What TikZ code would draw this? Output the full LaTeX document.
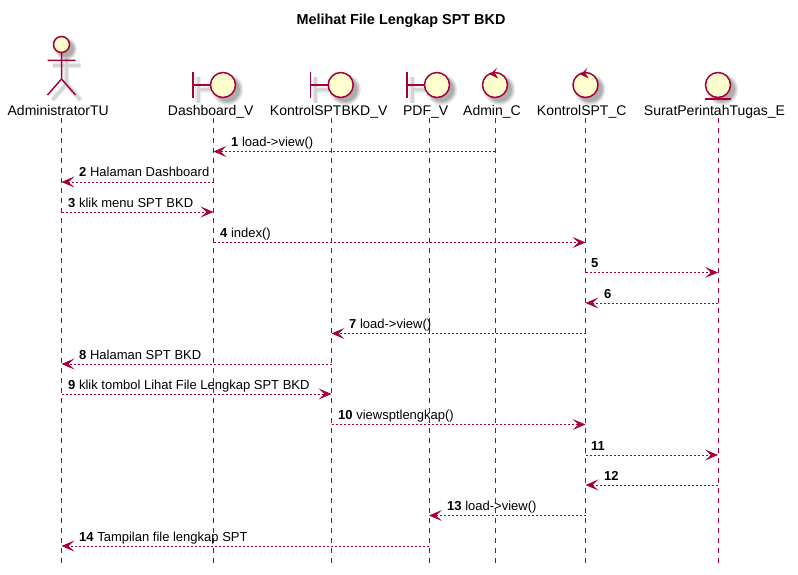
\documentclass[tikz,border=0pt]{standalone}
\usepackage{fontspec}
\setmainfont{Liberation Sans}
\usetikzlibrary{arrows.meta}
\definecolor{pline}{HTML}{A80036}
\definecolor{pfill}{HTML}{FEFECE}
\tikzset{
  shape line/.style={draw=pline,line width=1.5pt,fill=pfill},
  stroke/.style={draw=pline,line width=1.5pt},
  soft outer/.style={draw=black,draw opacity=0.08,line width=5.5pt},
  soft inner/.style={draw=black,draw opacity=0.10,line width=3pt},
  lifeline/.style={draw=pline,line width=1pt,dash pattern=on 5pt off 5pt},
  msg/.style={draw=pline,line width=0.9pt,dash pattern=on 2pt off 2pt,
    -{Stealth[length=13pt,width=11pt,inset=6pt,fill=pline]}},
  head label/.style={inner sep=0pt,anchor=base,font=\fontsize{14}{16}\selectfont,text=black},
  msg label/.style={inner sep=0pt,anchor=base west,font=\fontsize{13}{15}\selectfont,text=black},
  title label/.style={inner sep=0pt,anchor=base,font=\fontsize{14.4}{16}\selectfont\bfseries,text=black},
}
% #1 lifeline from, #2 lifeline to, #3 y, #4 label x, #5 number, #6 text
\newcommand{\msgarrow}[6]{%
  \draw[msg] (#1 |- 0,#3) -- (#2 |- 0,#3);
  \node[msg label] (m#5) at (#4,#3-5) {\textbf{#5} #6};
}
\newcommand{\softdisc}[3]{% x, y, r
  \fill[black,opacity=0.10] (#1,#2) circle (#3+2.5);
  \fill[black,opacity=0.12] (#1,#2) circle (#3+1);
  \fill[black,opacity=0.14] (#1,#2) circle (#3-0.5);
}
\newcommand{\boundaryshape}[1]{%
  \begin{scope}[shift={(#1,85)}]
    \draw[soft outer] (-25,-8) -- (-25,18) (-25,5) -- (-12,5);
    \draw[soft inner] (-25,-8) -- (-25,18) (-25,5) -- (-12,5);
    \softdisc{4.5}{4.5}{13}
    \draw[stroke] (-30,-13) -- (-30,13) (-30,0) -- (-13,0);
    \draw[shape line] (0,0) circle (12.5);
  \end{scope}}
\newcommand{\controlshape}[1]{%
  \begin{scope}[shift={(#1,85)}]
    \softdisc{4.5}{4.5}{13}
    \draw[shape line] (0,0) circle (12.5);
    \fill[pline] (-5,-10.5) -- (2,-17.5) -- (-0.5,-12.5) -- (3.2,-6.5) -- cycle;
  \end{scope}}
\begin{document}
\begin{tikzpicture}[x=1pt,y=-1pt]
\useasboundingbox (0,0) rectangle (798,575);
\node[title label] (title) at (401,25) {Melihat File Lengkap SPT BKD};

% lifelines
\coordinate (at) at (61.5,118);  \coordinate (ab) at (61.5,565);
\coordinate (dt) at (213.5,118); \coordinate (db) at (213.5,565);
\coordinate (kt) at (331.5,118); \coordinate (kb) at (331.5,565);
\coordinate (pt) at (429,118);   \coordinate (pb) at (429,565);
\coordinate (ct) at (495,118);   \coordinate (cb) at (495,565);
\coordinate (st) at (585.5,118); \coordinate (sb) at (585.5,565);
\coordinate (et) at (718,118);   \coordinate (eb) at (718,565);
\foreach \a/\b in {at/ab,dt/db,kt/kb,pt/pb,ct/cb,st/sb,et/eb}
  \draw[lifeline] (\a) -- (\b);

% actor
\begin{scope}[shift={(5,5)}]
  \draw[soft outer] (61.5,53) -- (61.5,79) -- (47.5,95) (61.5,79) -- (75.5,95) (47.5,60.5) -- (75.5,60.5);
  \draw[soft inner] (61.5,53) -- (61.5,79) -- (47.5,95) (61.5,79) -- (75.5,95) (47.5,60.5) -- (75.5,60.5);
\end{scope}
\softdisc{66}{49}{8.5}
\draw[shape line] (61.5,44.5) circle (8);
\draw[stroke] (61.5,53) -- (61.5,79) -- (47.5,95) (61.5,79) -- (75.5,95) (47.5,60.5) -- (75.5,60.5);

% boundaries
\boundaryshape{223}
\boundaryshape{340.7}
\boundaryshape{437}
% controls
\controlshape{495}
\controlshape{585.5}
% entity
\softdisc{722.5}{89.5}{13}
\draw[shape line] (718,85) circle (12.5);
\draw[stroke] (705,99) -- (731,99);

% head labels
\node[head label] (la) at (58.2,116) {AdministratorTU};
\node[head label] (ld) at (210.7,116) {Dashboard\_V};
\node[head label] (lk) at (328.7,116) {KontrolSPTBKD\_V};
\node[head label] (lp) at (425.7,116) {PDF\_V};
\node[head label] (lc) at (492,116) {Admin\_C};
\node[head label] (ls) at (581.7,116) {KontrolSPT\_C};
\node[head label] (le) at (714.5,116) {SuratPerintahTugas\_E};

% messages
\msgarrow{ct}{dt}{151.5}{231}{1}{load->view()}
\msgarrow{dt}{at}{182}{79}{2}{Halaman Dashboard}
\msgarrow{at}{dt}{212}{68}{3}{klik menu SPT BKD}
\msgarrow{dt}{st}{242.5}{220}{4}{index()}
\msgarrow{st}{et}{272.5}{591}{5}{}
\msgarrow{et}{st}{303}{604}{6}{}
\msgarrow{st}{kt}{333.5}{349}{7}{load->view()}
\msgarrow{kt}{at}{364}{79}{8}{Halaman SPT BKD}
\msgarrow{at}{kt}{394}{68}{9}{klik tombol Lihat File Lengkap SPT BKD}
\msgarrow{kt}{st}{424.5}{338}{10}{viewsptlengkap()}
\msgarrow{st}{et}{455}{591}{11}{}
\msgarrow{et}{st}{485}{604}{12}{}
\msgarrow{st}{pt}{515.5}{447}{13}{load->view()}
\msgarrow{pt}{at}{546}{79}{14}{Tampilan file lengkap SPT}
\end{tikzpicture}
\end{document}
